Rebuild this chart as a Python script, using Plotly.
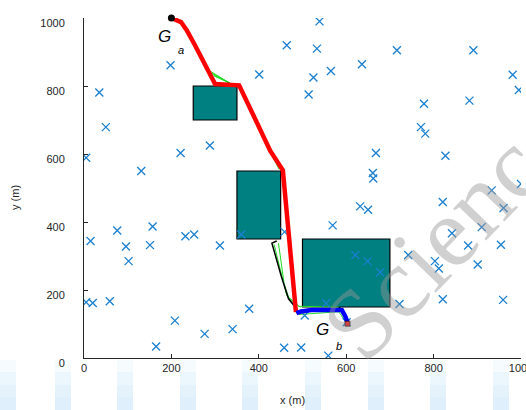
import plotly.graph_objects as go

# Obstacles: (x0, x1, y0, y1) in metres
obstacles = [
    (250, 350, 700, 800),
    (350, 450, 350, 550),
    (500, 700, 150, 350),
]

# Scattered landmarks
lm_x = [464, 401, 198, 35, 50, 5, 221, 288, 131,
        539, 533, 716, 891, 636, 565, 525, 514, 981, 995, 778, 882, 771, 781,
        668, 827, 661, 662, 1000,
        15, 76, 96, 102, 157, 151, 232, 252, 311, 360, 459, 5, 20, 59, 208,
        276, 340, 378, 165, 458, 497,
        632, 650, 569, 821, 933, 960, 910, 842, 879, 954, 901, 742, 803, 812,
        621, 649, 678, 722, 821, 959, 554, 505, 601, 559]
lm_y = [920, 834, 861, 781, 679, 589, 603, 625, 550,
        990, 910, 905, 905, 864, 844, 825, 775, 833, 788, 748, 757, 679, 660,
        603, 595, 544, 528, 512,
        344, 375, 328, 285, 387, 332, 358, 363, 331, 363, 371, 164, 162, 167, 110,
        71, 85, 145, 34, 30, 31,
        446, 436, 390, 459, 493, 441, 385, 367, 331, 333, 275, 303, 285, 263,
        303, 285, 252, 159, 173, 171, 161, 125, 105, 7]

# Path of robot a (red) and robot b (blue)
red_x = [200, 212, 222, 235, 254, 300, 355, 426, 455, 485]
red_y = [1000, 995, 988, 964, 920, 806, 802, 610, 552, 135]

blue_x = [486, 497, 520, 550, 580, 590, 598, 604]
blue_y = [132, 137, 141, 142, 143, 141, 122, 101]

# Alternative candidate trajectories (green) and local replans (black)
green_segments = [
    ([203, 214], [998, 990]),
    ([291, 334], [842, 808]),
    ([293, 336], [838, 806]),
    ([295, 334], [834, 809]),
    ([297, 337], [830, 806]),
    ([429, 446], [599, 556]),
    ([431, 448], [594, 557]),
    ([445, 458, 468, 495], [338, 218, 179, 149]),
    ([435, 449, 464, 483], [334, 257, 183, 157]),
    ([490, 540, 585, 598, 605], [152, 150, 150, 132, 103]),
    ([492, 530, 583, 600], [128, 132, 136, 104]),
]
black_segments = [
    ([327, 338], [808, 806]),
    ([441, 430, 452, 468, 483, 487], [344, 338, 238, 174, 151, 132]),
    ([583, 590], [150, 142]),
]

start_a = (200, 1000)
goal_b = (603, 101)

fig = go.Figure()

W, H = 526, 410
L, R, T, B = 84, 5, 18, 52
pw, ph = W - L - R, H - T - B


def px_x(p):
    return (p - L) / pw


def px_y(p):
    return (H - B - p) / ph


# Light page stripes along the bottom edge
stripe_left = [0, 55, 117, 180, 242, 305, 368, 430, 493]
for sx in stripe_left:
    for top, op in [(360, 0.25), (372, 0.35), (385, 0.45), (397, 0.55)]:
        fig.add_shape(type="rect", xref="paper", yref="paper",
                      x0=px_x(sx), x1=px_x(sx + 16), y0=px_y(410), y1=px_y(top),
                      fillcolor="#dbeefb", opacity=op, line_width=0, layer="below")

for x0, x1, y0, y1 in obstacles:
    fig.add_shape(type="rect", x0=x0, x1=x1, y0=y0, y1=y1,
                  fillcolor="#008080", line=dict(color="black", width=1.2), layer="below")


def join(segs):
    xs, ys = [], []
    for sx, sy in segs:
        xs += list(sx) + [None]
        ys += list(sy) + [None]
    return xs, ys


gx, gy = join(green_segments)
fig.add_trace(go.Scatter(x=gx, y=gy, mode="lines", line=dict(color="#22dd22", width=1),
                         hoverinfo="skip", cliponaxis=False))
bx, by = join(black_segments)
fig.add_trace(go.Scatter(x=bx, y=by, mode="lines", line=dict(color="black", width=1.5),
                         hoverinfo="skip"))

fig.add_trace(go.Scatter(x=lm_x, y=lm_y, mode="markers",
                         marker=dict(symbol="x-thin", size=8, line=dict(color="#1a7fd0", width=1.3))))

fig.add_trace(go.Scatter(x=red_x, y=red_y, mode="lines", cliponaxis=False,
                         line=dict(color="#ff0000", width=4.5, shape="linear")))
fig.add_trace(go.Scatter(x=blue_x, y=blue_y, mode="lines",
                         line=dict(color="#0000ff", width=4.5)))

fig.add_trace(go.Scatter(x=[start_a[0]], y=[start_a[1]], mode="markers", cliponaxis=False,
                         marker=dict(symbol="circle", size=7, color="black")))
fig.add_trace(go.Scatter(x=[goal_b[0]], y=[goal_b[1]], mode="markers",
                         marker=dict(symbol="square", size=5, color="#ff0000",
                                     line=dict(color="black", width=0.8))))

label_font = dict(family="Liberation Sans, Arial", size=11, color="#262626")

annotations = [
    dict(x=185, y=945, xref="x", yref="y", text="<i>G</i>", showarrow=False,
         font=dict(family="Liberation Sans, Arial", size=17, color="black")),
    dict(x=222, y=907, xref="x", yref="y", text="<i>a</i>", showarrow=False,
         font=dict(family="Liberation Sans, Arial", size=11, color="black")),
    dict(x=545, y=83, xref="x", yref="y", text="<i>G</i>", showarrow=False,
         font=dict(family="Liberation Sans, Arial", size=17, color="black")),
    dict(x=584, y=35, xref="x", yref="y", text="<i>b</i>", showarrow=False,
         font=dict(family="Liberation Sans, Arial", size=11, color="black")),
    dict(x=px_x(292), y=px_y(400), xref="paper", yref="paper", text="x (m)",
         showarrow=False, font=label_font, xanchor="center", yanchor="middle"),
    dict(x=px_x(15), y=px_y(198), xref="paper", yref="paper", text="y (m)",
         showarrow=False, textangle=-90, font=label_font,
         xanchor="center", yanchor="middle"),
    dict(x=px_x(448), y=px_y(231), xref="paper", yref="paper", text="Science",
         showarrow=False, textangle=-46, xanchor="center", yanchor="middle",
         font=dict(family="Liberation Serif, DejaVu Serif", size=100,
                   color="rgba(150,150,150,0.45)")),
]

axis_common = dict(range=[0, 1000], tickvals=[0, 200, 400, 600, 800, 1000],
                   ticks="inside", ticklen=4, tickcolor="#262626", showline=True,
                   linecolor="#262626", linewidth=1, showgrid=False, zeroline=False,
                   mirror=False, tickfont=label_font, ticklabeloverflow="allow",
                   automargin=False)

fig.update_layout(
    width=W, height=H, margin=dict(l=L, r=R, t=T, b=B, autoexpand=False),
    paper_bgcolor="white", plot_bgcolor="white", showlegend=False,
    xaxis=dict(**axis_common, ticklabelstandoff=0),
    yaxis=dict(**axis_common, ticklabelstandoff=16, ticklabelshift=5),
    annotations=annotations,
)

fig.write_html("out.html")
